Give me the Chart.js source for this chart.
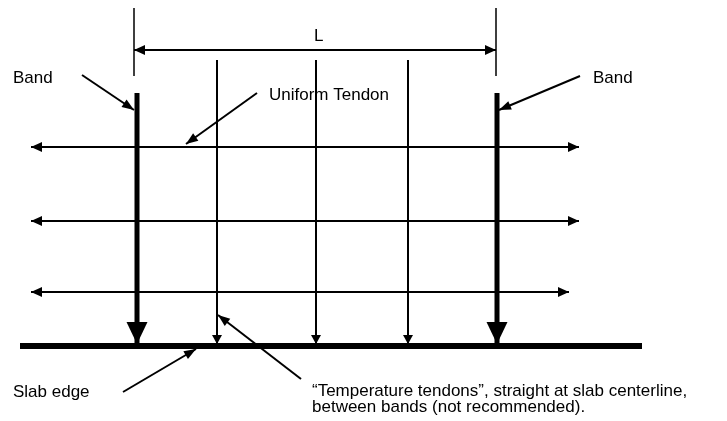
<!DOCTYPE html>
<html>
<head>
<meta charset="utf-8">
<script src="https://cdn.jsdelivr.net/npm/chart.js@4/dist/chart.umd.min.js"></script>
<style>
  html, body { margin: 0; padding: 0; background: #fff; }
  canvas { display: block; }
</style>
</head>
<body>
<canvas id="diagram" width="727" height="421"></canvas>
<script>
// diagram values (in drawing units, y grows downward)
const dimX = [134, 496];          // span L between band centerlines
const dimY = 50;
const extY = [8, 76];             // extension lines
const bandX = [137, 497];
const bandY = [93, 344];
const tempTendonX = [217, 316, 408];
const tempTendonY = [60, 344];
const uniformTendonY = [147, 221, 292];
const uniformTendonStartX = [31, 31, 31];
const uniformTendonEndX = [579, 579, 569];
const slabEdgeX = [20, 642];
const slabEdgeY = 346;
const leaderFrom = [[82, 75], [580, 76], [257, 93], [123, 392], [301, 379]];
const leaderTo = [[134, 110], [499, 110], [186, 144], [196, 349], [218, 315]];
const labelText = ["L", "Band", "Band", "Uniform Tendon", "Slab edge",
  "\u201CTemperature tendons\u201D, straight at slab centerline,",
  "between bands (not recommended)."];
const labelX = [314, 13, 593, 269, 13, 312, 312];
const labelY = [41, 83, 83, 100, 397, 396, 412];

document.addEventListener("DOMContentLoaded", function () {
  const ctx = document.getElementById("diagram").getContext("2d");

  function seg(x1, y1, x2, y2, width, head) {
    return {
      data: [{ x: x1, y: y1 }, { x: x2, y: y2 }],
      borderColor: "#000",
      borderWidth: width,
      pointRadius: 0,
      showLine: true,
      tension: 0,
      arrow: head || null,
    };
  }

  const datasets = [];

  // extension lines and dimension line
  dimX.forEach(x => datasets.push(seg(x, extY[0], x, extY[1], 1.5)));
  datasets.push(seg(dimX[0], dimY, dimX[1], dimY, 2, { ends: "both", len: 11, width: 10 }));

  // uniform tendons (horizontal)
  uniformTendonY.forEach((y, i) =>
    datasets.push(seg(uniformTendonStartX[i], y, uniformTendonEndX[i], y, 2, { ends: "both", len: 11, width: 10 })));

  // temperature tendons (vertical thin)
  tempTendonX.forEach(x =>
    datasets.push(seg(x, tempTendonY[0], x, tempTendonY[1], 2, { ends: "end", len: 9, width: 10 })));

  // bands (vertical thick)
  bandX.forEach(x =>
    datasets.push(seg(x, bandY[0], x, bandY[1], 5, { ends: "end", len: 22, width: 21 })));

  // slab edge
  datasets.push(seg(slabEdgeX[0], slabEdgeY, slabEdgeX[1], slabEdgeY, 6));

  // leader arrows
  leaderFrom.forEach((p, i) =>
    datasets.push(seg(p[0], p[1], leaderTo[i][0], leaderTo[i][1], 2, { ends: "end", len: 12, width: 9 })));

  // arrow heads drawn at the pixel ends of each segment
  const arrowHeads = {
    id: "arrowHeads",
    afterDatasetsDraw(chart) {
      const c = chart.ctx;
      chart.data.datasets.forEach((ds, i) => {
        if (!ds.arrow) return;
        const pts = chart.getDatasetMeta(i).data;
        const a = pts[0], b = pts[pts.length - 1];
        const heads = [];
        if (ds.arrow.ends === "end" || ds.arrow.ends === "both") heads.push([a, b]);
        if (ds.arrow.ends === "start" || ds.arrow.ends === "both") heads.push([b, a]);
        heads.forEach(([from, tip]) => {
          const ang = Math.atan2(tip.y - from.y, tip.x - from.x);
          const l = ds.arrow.len, w = ds.arrow.width / 2;
          const bx = tip.x - Math.cos(ang) * l, by = tip.y - Math.sin(ang) * l;
          c.save();
          c.fillStyle = "#000";
          c.beginPath();
          c.moveTo(tip.x, tip.y);
          c.lineTo(bx + Math.sin(ang) * w, by - Math.cos(ang) * w);
          c.lineTo(bx - Math.sin(ang) * w, by + Math.cos(ang) * w);
          c.closePath();
          c.fill();
          c.restore();
        });
      });
    },
  };

  // text labels placed through the scales
  const labels = {
    id: "labels",
    afterDraw(chart) {
      const c = chart.ctx;
      const xs = chart.scales.x, ys = chart.scales.y;
      c.save();
      c.fillStyle = "#000";
      c.font = '17px "Liberation Sans", Arial, sans-serif';
      c.textBaseline = "alphabetic";
      c.textAlign = "left";
      labelText.forEach((t, i) => {
        c.fillText(t, xs.getPixelForValue(labelX[i]), ys.getPixelForValue(labelY[i]));
      });
      c.restore();
    },
  };

  new Chart(ctx, {
    type: "scatter",
    data: { datasets: datasets },
    options: {
      responsive: false,
      animation: false,
      devicePixelRatio: 1,
      layout: { padding: 0 },
      scales: {
        x: { type: "linear", min: 0, max: 727, display: false },
        y: { type: "linear", min: 0, max: 421, reverse: true, display: false },
      },
      plugins: { legend: { display: false }, tooltip: { enabled: false } },
      events: [],
    },
    plugins: [arrowHeads, labels],
  });
});
</script>
</body>
</html>
